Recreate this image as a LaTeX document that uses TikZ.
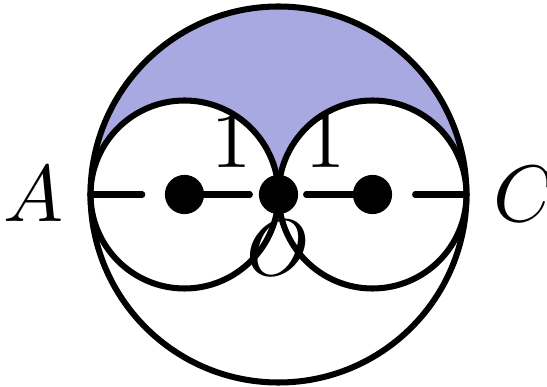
\documentclass[tikz,border=0pt]{standalone}
\usetikzlibrary{calc}
\definecolor{lunefill}{HTML}{A9A9E2}

\begin{document}
\begin{tikzpicture}[
    line width=4.3pt,
    dot/.style={circle, fill=black, inner sep=0pt, outer sep=0pt, minimum size=0.98cm},
    seg/.style={line cap=round},
    lbl/.style={scale=5.7, outer sep=0pt}
]
\useasboundingbox (-6.9625,-4.8125) rectangle (6.7125,4.8625);
\coordinate (A) at (-4.7,0);
\coordinate (C) at (4.7,0);

% shaded part: upper half of the big circle minus the two small halves
\fill[lunefill] (A) arc[start angle=180, end angle=0, radius=4.7]
    arc[start angle=0, end angle=180, radius=2.35]
    arc[start angle=0, end angle=180, radius=2.35] -- cycle;

\draw (0,0) circle[radius=4.7];
\draw (-2.35,0) circle[radius=2.35];
\draw (2.35,0) circle[radius=2.35];

\node[dot] (p1) at (-2.35,0) {};
\node[dot] (o) at (0,0) {};
\node[dot] (p2) at (2.35,0) {};

\draw[seg, shorten >=0.565cm] (A) -- (p1);
\draw[seg, shorten >=0.225cm] (p1) -- (o) node[lbl, midway, above] (one1) {$1$};
\draw[seg, shorten <=0.2cm] (o) -- (p2) node[lbl, midway, above] (one2) {$1$};
\draw[seg, shorten <=0.575cm] (p2) -- (C);

\node[lbl, left] (la) at (A) {$A$};
\node[lbl, right] (lc) at (C) {$C$};
\node[lbl, below] (lo) at (o) {$O$};
\end{tikzpicture}
\end{document}
